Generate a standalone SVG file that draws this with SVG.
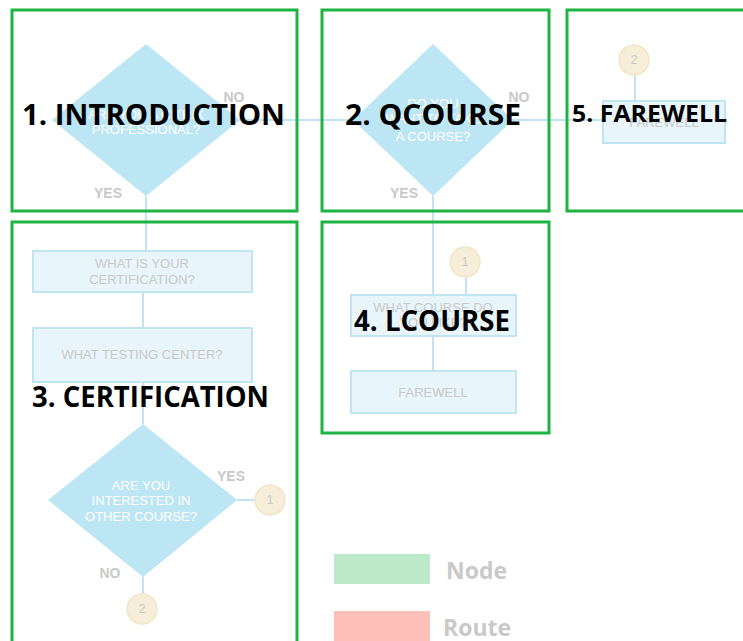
<svg xmlns="http://www.w3.org/2000/svg" width="743" height="641" viewBox="0 0 743 641">
<style>
.ln{stroke:#bfe5f3;stroke-width:2;fill:none}
.dia{fill:#bde6f4}
.box{fill:#e8f5fb;stroke:#bfe5f3;stroke-width:2}
.cir{fill:#f6eed8;stroke:#f1e6c8;stroke-width:1.5}
.dt{font-family:"Liberation Sans",Arial,sans-serif;font-size:13px;fill:#ffffff;text-anchor:middle}
.bt{font-family:"Liberation Sans",Arial,sans-serif;font-size:13px;fill:#c9c9c9;text-anchor:middle}
.ct{font-family:"Liberation Sans",Arial,sans-serif;font-size:12px;fill:#c9c9c9;text-anchor:middle}
.lab{font-family:"Liberation Sans",Arial,sans-serif;font-size:14px;font-weight:bold;fill:#c9c9c9;text-anchor:middle}
.grp{fill:none;stroke:#1db443;stroke-width:3}
.title{font-family:"Open Sans","Noto Sans",sans-serif;font-weight:bold;fill:#000000}
.leg{font-family:"Open Sans","Noto Sans",sans-serif;font-weight:bold;font-size:23px;fill:#c9c9c9}
</style>
<g id="connectors">
<line class="ln" x1="146" y1="120" x2="603" y2="120"/>
<line class="ln" x1="146" y1="196" x2="146" y2="251"/>
<line class="ln" x1="143" y1="292" x2="143" y2="328"/>
<line class="ln" x1="143" y1="382" x2="143" y2="424"/>
<line class="ln" x1="237" y1="500" x2="256" y2="500"/>
<line class="ln" x1="143" y1="577" x2="143" y2="594"/>
<line class="ln" x1="433" y1="196" x2="433" y2="295"/>
<line class="ln" x1="466" y1="277" x2="466" y2="295"/>
<line class="ln" x1="433" y1="336" x2="433" y2="371"/>
<line class="ln" x1="635" y1="75" x2="635" y2="101"/>
</g>
<g id="introduction-q">
<polygon class="dia" points="146,44 240,120 146,196 52,120"/>
<text class="dt" x="146" y="119">ARE YOU A CITRIX</text>
<text class="dt" x="146" y="134">PROFESSIONAL?</text>
<text class="lab" x="234" y="102">NO</text>
<text class="lab" x="108" y="198">YES</text>
</g>
<g id="qcourse-q">
<polygon class="dia" points="433,44 513,120 433,196 353,120"/>
<text class="dt" x="433" y="108">DO YOU</text>
<text class="dt" x="433" y="123">WANT TO TAKE</text>
<text class="dt" x="433" y="141">A COURSE?</text>
<text class="lab" x="519" y="102">NO</text>
<text class="lab" x="404" y="198">YES</text>
</g>
<g id="farewell-5">
<circle class="cir" cx="634" cy="60" r="15"/>
<text class="ct" x="634" y="64">2</text>
<rect class="box" x="603" y="101" width="122" height="42"/>
<text class="bt" x="664" y="127">FAREWELL</text>
</g>
<g id="certification">
<rect class="box" x="33" y="251" width="219" height="41"/>
<text class="bt" x="142" y="268">WHAT IS YOUR</text>
<text class="bt" x="142" y="284">CERTIFICATION?</text>
<rect class="box" x="33" y="328" width="219" height="54"/>
<text class="bt" x="142" y="359">WHAT TESTING CENTER?</text>
<polygon class="dia" points="143,424 237,500 143,577 48,500"/>
<text class="dt" x="141" y="490">ARE YOU</text>
<text class="dt" x="141" y="505">INTERESTED IN</text>
<text class="dt" x="141" y="521">OTHER COURSE?</text>
<text class="lab" x="231" y="481">YES</text>
<text class="lab" x="110" y="578">NO</text>
<circle class="cir" cx="270" cy="500" r="15"/>
<text class="ct" x="270" y="504">1</text>
<circle class="cir" cx="142" cy="609" r="15"/>
<text class="ct" x="142" y="613">2</text>
</g>
<g id="lcourse">
<circle class="cir" cx="465" cy="262" r="15"/>
<text class="ct" x="465" y="266">1</text>
<rect class="box" x="351" y="295" width="165" height="41"/>
<text class="bt" x="433" y="312">WHAT COURSE DO</text>
<text class="bt" x="433" y="327">YOU LIKE?</text>
<rect class="box" x="351" y="371" width="165" height="42"/>
<text class="bt" x="433" y="397">FAREWELL</text>
</g>
<g id="groups">
<rect class="grp" x="12" y="10" width="285" height="201"/>
<rect class="grp" x="322" y="10" width="227" height="201"/>
<rect class="grp" x="567" y="10" width="180" height="201"/>
<rect class="grp" x="12" y="222" width="285" height="425"/>
<rect class="grp" x="322" y="222" width="227" height="211"/>
</g>
<g id="titles">
<text class="title" x="22" y="125" font-size="29" textLength="263" lengthAdjust="spacingAndGlyphs">1. INTRODUCTION</text>
<text class="title" x="345" y="125" font-size="29" textLength="176" lengthAdjust="spacingAndGlyphs">2. QCOURSE</text>
<text class="title" x="572" y="122" font-size="23" textLength="155" lengthAdjust="spacingAndGlyphs">5. FAREWELL</text>
<text class="title" x="32" y="407" font-size="29" textLength="237" lengthAdjust="spacingAndGlyphs">3. CERTIFICATION</text>
<text class="title" x="354" y="331" font-size="29" textLength="156" lengthAdjust="spacingAndGlyphs">4. LCOURSE</text>
</g>
<g id="legend">
<rect x="334" y="554" width="96" height="30" fill="#bde9cb"/>
<text class="leg" x="446" y="579">Node</text>
<rect x="334" y="611" width="96" height="30" fill="#ffc0b9"/>
<text class="leg" x="443" y="636">Route</text>
</g>
</svg>
